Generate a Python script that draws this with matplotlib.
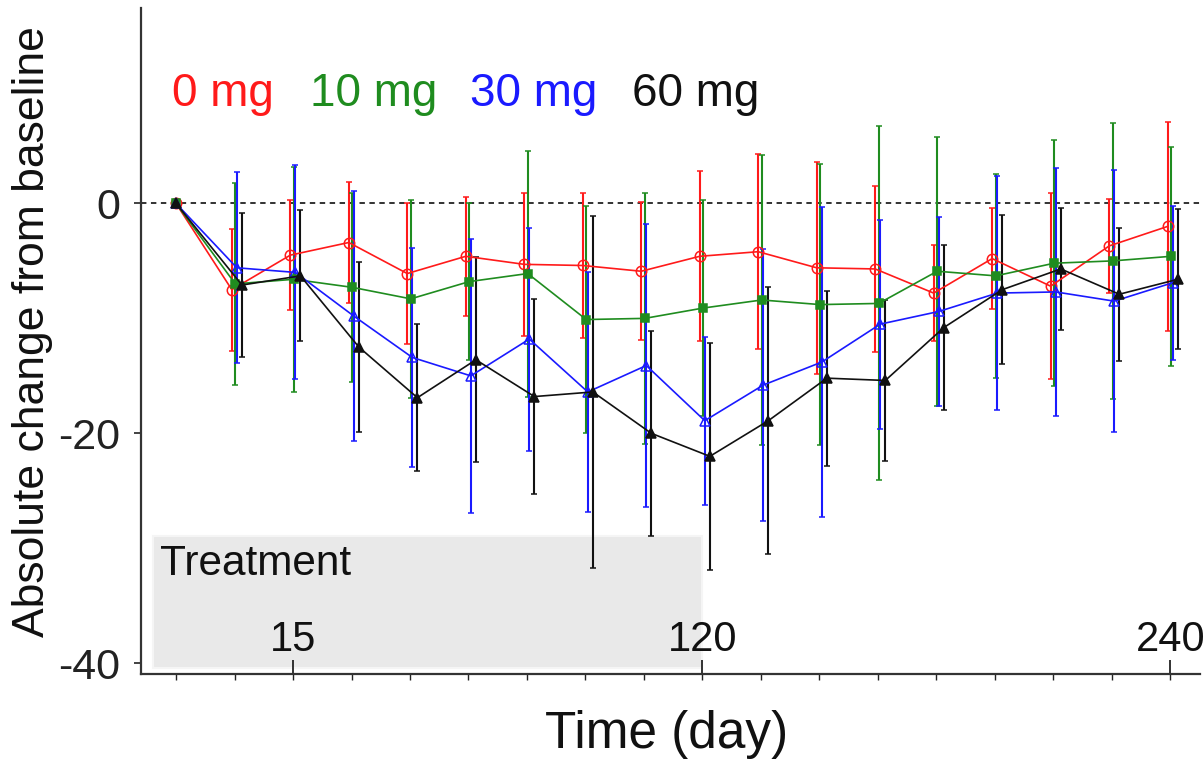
import numpy as np
import matplotlib
matplotlib.use("Agg")
import matplotlib.pyplot as plt
from matplotlib.patches import Rectangle

plt.rcParams['font.family'] = ['Liberation Sans', 'DejaVu Sans']
plt.rcParams['axes.unicode_minus'] = False

# visit days (baseline at -15)
days = [-15, 0, 15, 30, 45, 60, 75, 90, 105, 120, 135, 150, 165, 180, 195, 210, 225, 240]
doses = ['0 mg', '10 mg', '30 mg', '60 mg']

# mean absolute change from baseline and SD
mean_0mg = [0, -7.5, -4.5, -3.4, -6.1, -4.6, -5.3, -5.4, -5.9, -4.6, -4.2, -5.6, -5.7, -7.8, -4.8, -7.2, -3.7, -2.0]
sd_0mg = [0, 5.3, 4.8, 5.3, 6.1, 5.2, 6.2, 6.3, 6.0, 7.4, 8.5, 9.2, 7.2, 4.2, 4.4, 8.1, 4.1, 9.1]

mean_10mg = [0, -7.0, -6.6, -7.3, -8.3, -6.8, -6.1, -10.1, -10.0, -9.1, -8.4, -8.8, -8.7, -5.9, -6.3, -5.2, -5.0, -4.6]
sd_10mg = [0, 8.8, 9.8, 8.2, 8.6, 6.8, 10.7, 9.9, 10.9, 9.4, 12.6, 12.2, 15.4, 11.7, 8.9, 10.7, 12.0, 9.5]

mean_30mg = [0, -5.6, -6.0, -9.8, -13.4, -15.0, -11.8, -16.4, -14.1, -18.9, -15.8, -13.8, -10.5, -9.4, -7.8, -7.7, -8.5, -6.9]
sd_30mg = [0, 8.3, 9.3, 10.9, 9.5, 11.9, 9.7, 10.4, 12.3, 7.3, 11.8, 13.5, 9.1, 8.2, 10.2, 10.8, 11.4, 6.7]

mean_60mg = [0, -7.1, -6.3, -12.5, -16.9, -13.6, -16.8, -16.4, -20.0, -22.0, -18.9, -15.2, -15.4, -10.8, -7.5, -5.7, -7.9, -6.6]
sd_60mg = [0, 6.3, 5.7, 7.4, 6.4, 8.9, 8.5, 15.3, 8.9, 9.9, 11.6, 7.6, 7.0, 7.2, 6.5, 5.3, 5.8, 6.1]

major_days = [15, 120, 240]
treatment_end = 120

means = [mean_0mg, mean_10mg, mean_30mg, mean_60mg]
sds = [sd_0mg, sd_10mg, sd_30mg, sd_60mg]
colors = ['#ff1a1a', '#1f8c1f', '#1a1aff', '#111111']
markers = ['o', 's', '^', '^']
filled = [False, True, False, True]
msizes = [7.5, 5.5, 7.5, 7.5]
dodge = [-0.7, 0.2, 0.6, 1.9]

fig = plt.figure(figsize=(12.03, 7.6), dpi=100)
ax = fig.add_axes([0.117, 0.1132, 0.8805, 0.8763])

# treatment period box
ax.add_patch(Rectangle((-21, -40.4), treatment_end + 21, 11.5,
                       facecolor='#e9e9e9', edgecolor='#f5f5f5', lw=1.5, zorder=0))
ax.text(-19.2, -32.3, 'Treatment', fontsize=30.5, va='baseline', ha='left', color='#111111', zorder=1)

ax.axhline(0, color='#222222', lw=1.3, ls=(0, (3, 2.5)), zorder=1)

for m, s, c, mk, f, ms, off in zip(means, sds, colors, markers, filled, msizes, dodge):
    x = np.array(days, dtype=float) + off
    x[0] = days[0]
    ax.errorbar(x, m, yerr=s, color=c, lw=1.2,
                marker=mk, ms=ms, mfc=c if f else 'none', mec=c, mew=1.1,
                ecolor=c, elinewidth=1.5, capsize=2.5, capthick=1.4, zorder=3)

ax.set_xlim(-24.05, 247.6)
ax.set_ylim(-40.93, 17.0)

ax.set_yticks([-40, -20, 0])
ax.tick_params(axis='y', direction='out', length=5, width=1.2, pad=10, labelsize=31, colors='#222222')

ax.set_xticks(major_days)
ax.set_xticks(days, minor=True)
ax.xaxis.remove_overlapping_locs = False
ax.tick_params(axis='x', which='major', direction='in', length=10, width=1.2, pad=-39, labelsize=30, colors='#111111')
ax.tick_params(axis='x', which='minor', direction='out', length=4.3, width=1.0, colors='#222222')

for side in ['top', 'right']:
    ax.spines[side].set_visible(False)
for side in ['left', 'bottom']:
    ax.spines[side].set_linewidth(1.6)
    ax.spines[side].set_color('#333333')

# dose labels across the top
label_x = [172, 310, 470, 632]
for name, c, lx in zip(doses, colors, label_x):
    fig.text(lx / 1203, 1 - 106 / 760, name, color=c, fontsize=33, ha='left', va='baseline')

fig.text(33 / 1203, 1 - 332 / 760, 'Absolute change from baseline', rotation=90,
         fontsize=32, ha='center', va='center', color='#111111')
fig.text(667 / 1203, 1 - 748 / 760, 'Time (day)', fontsize=37, ha='center', va='baseline', color='#111111')

fig.savefig('out.png', dpi=100)
